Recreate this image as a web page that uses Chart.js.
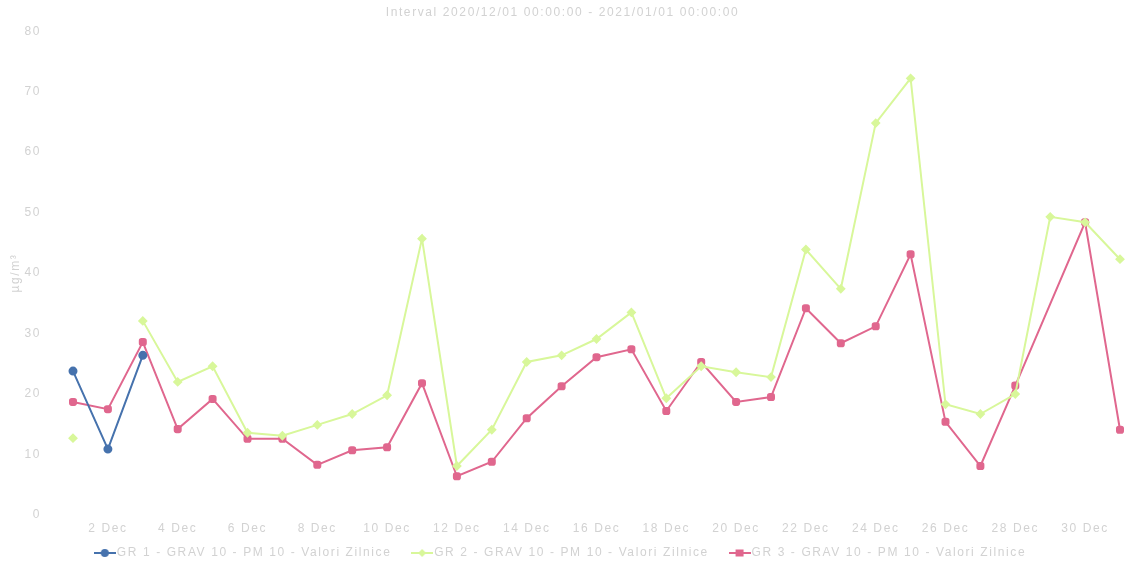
<!DOCTYPE html>
<html>
<head>
<meta charset="utf-8">
<script src="https://cdn.jsdelivr.net/npm/chart.js@4/dist/chart.umd.min.js"></script>
<style>
  html, body { margin: 0; padding: 0; background: #ffffff; }
  #wrap { width: 1127px; height: 563px; position: relative; }
</style>
</head>
<body>
<div id="wrap"><canvas id="c" width="1127" height="563"></canvas></div>
<script>
const titleText = "Interval 2020/12/01 00:00:00 - 2021/01/01 00:00:00";
const yAxisTitle = "µg/m³";
const categories = ["1 Dec","2 Dec","3 Dec","4 Dec","5 Dec","6 Dec","7 Dec","8 Dec","9 Dec","10 Dec",
  "11 Dec","12 Dec","13 Dec","14 Dec","15 Dec","16 Dec","17 Dec","18 Dec","19 Dec","20 Dec",
  "21 Dec","22 Dec","23 Dec","24 Dec","25 Dec","26 Dec","27 Dec","28 Dec","29 Dec","30 Dec","31 Dec"];
const seriesNames = ["GR 1 - GRAV 10 - PM 10 - Valori Zilnice",
                     "GR 2 - GRAV 10 - PM 10 - Valori Zilnice",
                     "GR 3 - GRAV 10 - PM 10 - Valori Zilnice"];
const gr1 = [23.8, 10.9, 26.4, null, null, null, null, null, null, null,
  null, null, null, null, null, null, null, null, null, null,
  null, null, null, null, null, null, null, null, null, null, null];
const gr2 = [12.7, null, 32.1, 22.0, 24.6, 13.6, 13.1, 14.9, 16.7, 19.8,
  45.7, 8.1, 14.1, 25.3, 26.4, 29.1, 33.5, 19.3, 24.6, 23.6,
  22.8, 43.9, 37.4, 64.8, 72.2, 18.3, 16.7, 20.0, 49.3, 48.4, 42.3];
const gr3 = [18.7, 17.5, 28.6, 14.2, 19.2, 12.6, 12.6, 8.3, 10.7, 11.2,
  21.8, 6.4, 8.8, 16.0, 21.3, 26.1, 27.4, 17.2, 25.3, 18.7,
  19.5, 34.2, 28.4, 31.2, 43.1, 15.4, 8.1, 21.4, null, 48.4, 14.1];
const yTicks = [0, 10, 20, 30, 40, 50, 60, 70, 80];

const colors = ["#4672ad", "#d8f79a", "#e0678e"];
const styles = ["circle", "rectRot", "rectRounded"];

function legendIcon(color, style) {
  const cv = document.createElement('canvas');
  cv.width = 22; cv.height = 10;
  const g = cv.getContext('2d');
  g.strokeStyle = color; g.fillStyle = color; g.lineWidth = 2;
  g.beginPath(); g.moveTo(0, 5); g.lineTo(22, 5); g.stroke();
  g.beginPath();
  if (style === 'circle') { g.arc(11, 5, 4, 0, Math.PI * 2); }
  else if (style === 'rectRot') { g.moveTo(11, 1); g.lineTo(15, 5); g.lineTo(11, 9); g.lineTo(7, 5); g.closePath(); }
  else { g.rect(7, 1.5, 8, 7); }
  g.fill();
  return cv;
}

const textColor = "#d2d2d2";
const font = { family: "'Liberation Sans', Arial, sans-serif", size: 12, weight: 'normal' };

const spacingPlugin = {
  id: 'spacing',
  beforeInit(chart) { chart.ctx.letterSpacing = '1.6px'; },
  beforeUpdate(chart) { chart.ctx.letterSpacing = '1.6px'; },
  beforeDraw(chart) { chart.ctx.letterSpacing = '1.6px'; }
};

new Chart(document.getElementById('c'), {
  type: 'line',
  plugins: [spacingPlugin],
  data: {
    labels: categories,
    datasets: [gr1, gr2, gr3].map((d, i) => ({
      label: seriesNames[i],
      data: d,
      borderColor: colors[i],
      backgroundColor: colors[i],
      borderWidth: 2,
      pointStyle: styles[i],
      pointRadius: 3.5,
      pointHoverRadius: 5,
      tension: 0,
      spanGaps: i === 2,
      fill: false
    }))
  },
  options: {
    responsive: false,
    animation: false,
    layout: { padding: { left: 5, right: 7, top: 0, bottom: -6 } },
    plugins: {
      title: { display: true, text: titleText, color: textColor, font: font, padding: { top: 0, bottom: 11 } },
      legend: {
        position: 'bottom',
        labels: {
          color: textColor, font: font, usePointStyle: true, boxWidth: 22, padding: 0,
          generateLabels: (chart) => chart.data.datasets.map((ds, i) => ({
            text: ds.label + (i < 2 ? '     ' : ''), fillStyle: colors[i], strokeStyle: colors[i], fontColor: textColor,
            pointStyle: legendIcon(colors[i], styles[i]), datasetIndex: i, hidden: false, lineWidth: 0
          }))
        }
      },
      tooltip: { enabled: false }
    },
    scales: {
      x: {
        type: 'category',
        offset: false,
        grid: { display: false, drawTicks: false },
        border: { display: false },
        afterFit: (s) => { s.height = 32; },
        ticks: {
          color: textColor, font: font, autoSkip: false, maxRotation: 0, padding: 6,
          callback: function (v, idx) { return idx % 2 === 1 ? this.getLabelForValue(v) : null; }
        }
      },
      y: {
        min: 0, max: 80,
        grid: { display: false },
        border: { display: false },
        afterFit: (s) => { s.width = 68; },
        afterBuildTicks: (s) => { s.ticks = yTicks.map(v => ({ value: v })); },
        ticks: { color: textColor, font: font, padding: 24 },
        title: { display: true, text: yAxisTitle, color: textColor, font: font, padding: { top: 3, bottom: 0 } }
      }
    }
  }
});
</script>
</body>
</html>
